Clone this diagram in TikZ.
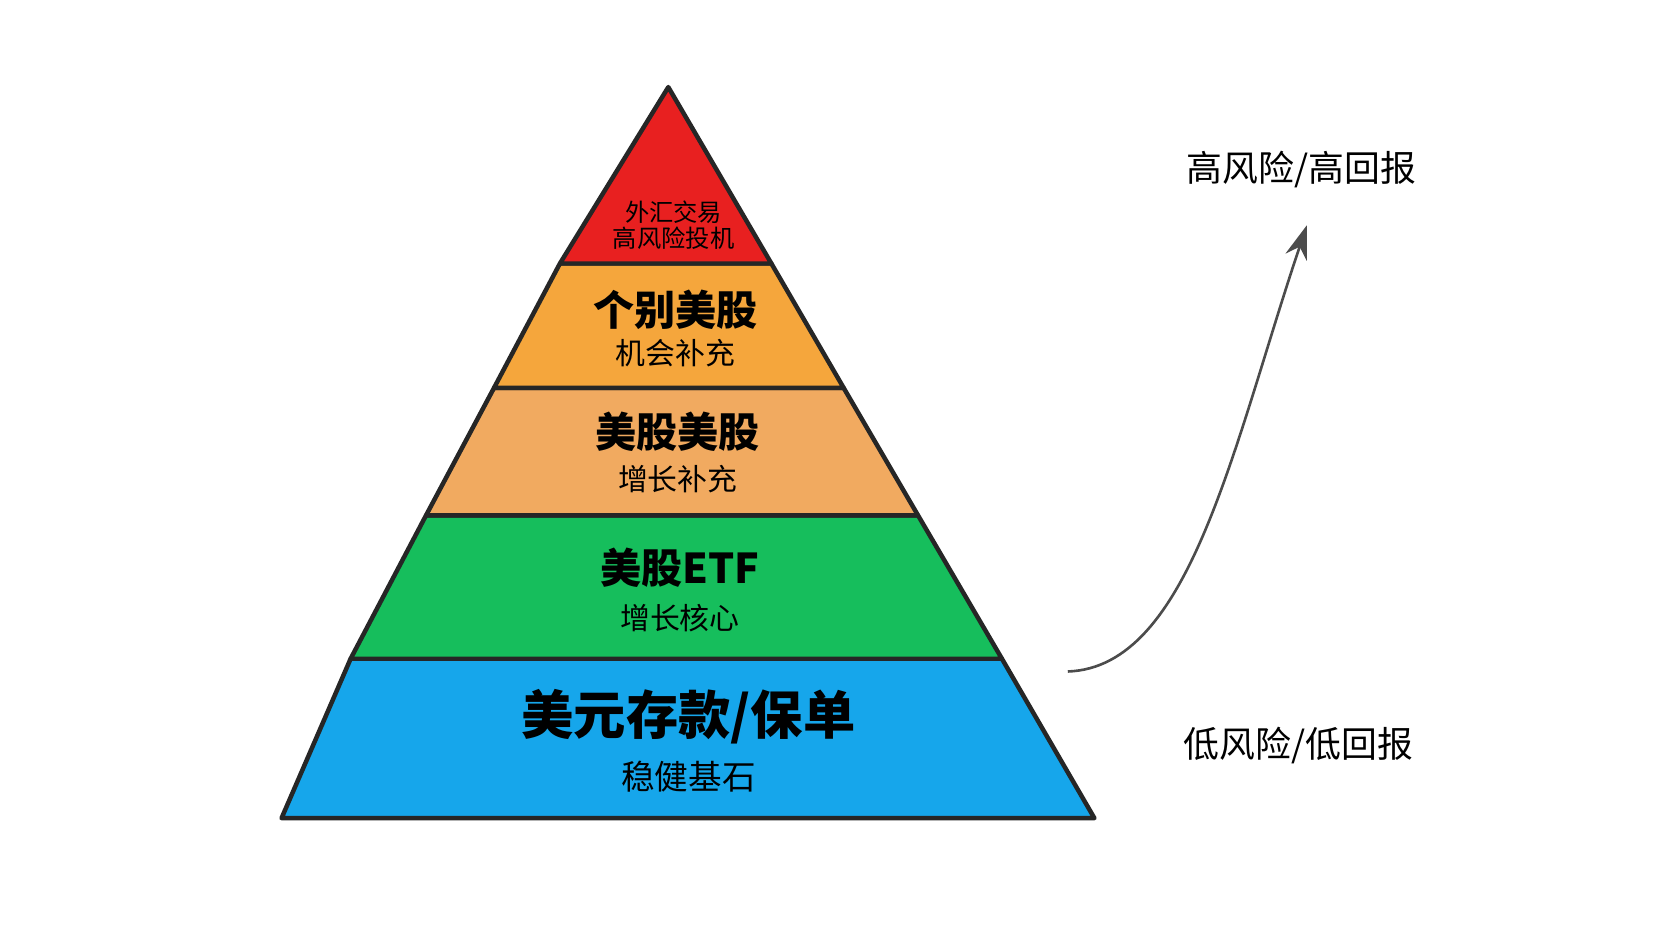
\documentclass[tikz,border=0pt]{standalone}
\usepackage{fontspec}
\setmainfont{Noto Sans CJK SC}
\usetikzlibrary{arrows.meta, positioning}
\definecolor{tierred}{RGB}{232,32,32}
\definecolor{tierorange}{RGB}{245,166,60}
\definecolor{tierpeach}{RGB}{241,170,96}
\definecolor{tiergreen}{RGB}{22,190,92}
\definecolor{tierblue}{RGB}{22,166,235}
\begin{document}
\begin{tikzpicture}[x=0.01cm, y=-0.01cm,
    every node/.style={font=\normalfont},
    tier/.style={draw=black!85, line width=1.2pt, line join=round},
    title/.style={font=\bfseries\fontsize{11}{12}\selectfont},
    sub/.style={font=\fontsize{8}{9}\selectfont},
    side/.style={font=\fontsize{9.6}{11}\selectfont}]
    % Canvas
    \useasboundingbox (0,0) rectangle (1568,882);
    \fill[white] (0,0) rectangle (1568,882);

    % Tiers, bottom to top
    \filldraw[tier, fill=tierblue] (330,620) -- (943,620) -- (1030,770) -- (265,770) -- cycle;
    \filldraw[tier, fill=tiergreen] (401,485) -- (864,485) -- (943,620) -- (330,620) -- cycle;
    \filldraw[tier, fill=tierpeach] (465,365) -- (794,365) -- (864,485) -- (401,485) -- cycle;
    \filldraw[tier, fill=tierorange] (527,248) -- (726,248) -- (794,365) -- (465,365) -- cycle;
    \filldraw[tier, fill=tierred] (629,82) -- (726,248) -- (527,248) -- cycle;

    % Labels
    \node (fx) [font=\fontsize{6.5}{6.8}\selectfont, align=center] at (634,212) {外汇交易\\高风险投机};
    \node (single) [title] at (636,292) {个别美股};
    \node (single_sub) [sub] at (636,332) {机会补充};
    \node (stock) [title] at (638,406) {美股美股};
    \node (stock_sub) [sub] at (638,451) {增长补充};
    \node (etf) [title] at (640,534) {美股ETF};
    \node (etf_sub) [sub] at (640,582) {增长核心};
    \node (base) [font=\bfseries\fontsize{14}{15}\selectfont] at (648,675) {美元存款/保单};
    \node (base_sub) [sub, font=\fontsize{9}{10}\selectfont] at (648,731) {稳健基石};

    % Risk axis
    \node (high) [side] at (1225,160) {高风险/高回报};
    \node (low) [side] at (1222,702) {低风险/低回报};
    \coordinate (curve_start) at (1005,632);
    \coordinate (curve_end) at (1230,212);
    \draw [-{Stealth[length=9pt, width=6pt]}, black!70, line width=0.7pt]
        (curve_start) .. controls (1120,628) and (1160,420) .. (curve_end);
\end{tikzpicture}
\end{document}
